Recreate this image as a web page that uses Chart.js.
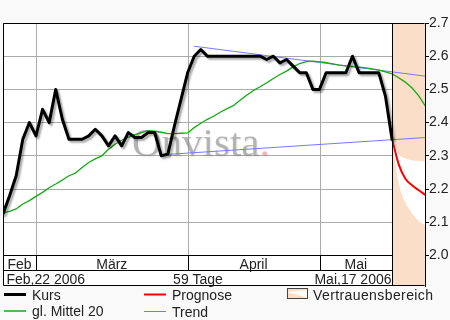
<!DOCTYPE html>
<html lang="de">
<head>
<meta charset="utf-8">
<title>Kursverlauf</title>
<script src="https://cdn.jsdelivr.net/npm/chart.js@4.4.0/dist/chart.umd.min.js"></script>
<style>
  html, body { margin: 0; padding: 0; background: #f9f9f9; }
  #chart { display: block; }
</style>
</head>
<body>
<canvas id="chart" width="450" height="320"></canvas>
<script>
// Schlusskurse, Index 0 = Feb 22 2006 ... Index 59 = Mai 17 2006
const kurs = [
    2.125, 2.18, 2.24, 2.35, 2.40, 2.36, 2.44, 2.40, 2.50, 2.41,
    2.35, 2.35, 2.35, 2.36, 2.38, 2.36, 2.33, 2.36, 2.33, 2.37,
    2.355, 2.355, 2.37, 2.37, 2.30, 2.305, 2.39, 2.47, 2.55, 2.60,
    2.62, 2.60, 2.60, 2.60, 2.60, 2.60, 2.60, 2.60, 2.60, 2.60,
    2.59, 2.60, 2.58, 2.59, 2.57, 2.55, 2.55, 2.50, 2.50, 2.55,
    2.55, 2.55, 2.55, 2.60, 2.55, 2.55, 2.55, 2.55, 2.48, 2.35
];

// gleitender Durchschnitt 20 Tage (inkl. Prognosetage bis Index 64)
const mittel20 = [
    2.128, 2.133, 2.14, 2.155, 2.165, 2.178, 2.19, 2.204, 2.215, 2.227,
    2.24, 2.248, 2.265, 2.28, 2.291, 2.30, 2.32, 2.335, 2.347, 2.356,
    2.364, 2.37, 2.376, 2.374, 2.371, 2.367, 2.367, 2.368, 2.369, 2.385,
    2.398, 2.41, 2.42, 2.432, 2.442, 2.452, 2.468, 2.483, 2.497, 2.508,
    2.52, 2.533, 2.545, 2.555, 2.568, 2.578, 2.584, 2.585, 2.583, 2.581,
    2.577, 2.573, 2.571, 2.569, 2.567, 2.565, 2.562, 2.558, 2.553, 2.547,
    2.535, 2.522, 2.505, 2.482, 2.452
];

// Prognose und Vertrauensbereich ab Index 59
const prognoseStart = 59;
const prognose = [2.352, 2.275, 2.232, 2.212, 2.197, 2.183];
const vertrauenOben = [2.352, 2.305, 2.293, 2.287, 2.285, 2.284];
const vertrauenUnten = [2.352, 2.22, 2.16, 2.128, 2.105, 2.09];

// Trendlinien (Start- und Endpunkt)
const trendObenX = [29, 64];
const trendObenY = [2.63, 2.54];
const trendUntenX = [24, 64];
const trendUntenY = [2.303, 2.355];

// Achsen
const monate = ['Feb', 'März', 'April', 'Mai'];
const monatsStart = [0, 5, 28, 48];
const yTicks = [2.0, 2.1, 2.2, 2.3, 2.4, 2.5, 2.6, 2.7];
const startDatum = 'Feb,22 2006';
const endDatum = 'Mai,17 2006';
const spanne = '59 Tage';
const xMax = 64;

const schrift = '"Liberation Sans", Arial, sans-serif';
const pfirsich = '#fadec8';

// Hilfsfunktionen für Datenpunkte
function punkte(werte, start) {
    return werte.map(function (v, i) { return { x: start + i, y: v }; });
}
function punkteXY(xs, ys) {
    return xs.map(function (x, i) { return { x: x, y: ys[i] }; });
}

// Rahmen, Monatsleiste, Wasserzeichen und Legende
const rahmenPlugin = {
    id: 'rahmen',
    beforeDraw(chart) {
        const ctx = chart.ctx, a = chart.chartArea;
        ctx.save();
        ctx.fillStyle = '#f9f9f9';
        ctx.fillRect(0, 0, chart.width, chart.height);
        ctx.fillStyle = '#ffffff';
        ctx.fillRect(a.left, a.top, a.right - a.left, a.bottom - a.top);
        ctx.restore();
    },
    beforeDatasetsDraw(chart) {
        const ctx = chart.ctx, a = chart.chartArea;
        const x = chart.scales.x, y = chart.scales.y;
        const y0 = Math.round(y.getPixelForValue(2.0));
        ctx.save();

        // senkrechte Gitterlinien an Monatsanfängen
        ctx.strokeStyle = '#aaaaaa';
        ctx.lineWidth = 1;
        monatsStart.slice(1).forEach(function (i) {
            const px = Math.round(x.getPixelForValue(i)) + 0.5;
            ctx.beginPath();
            ctx.moveTo(px, a.top);
            ctx.lineTo(px, y0);
            ctx.stroke();
        });

        // Wasserzeichen
        ctx.font = '41px "Liberation Serif", "DejaVu Serif", serif';
        ctx.textBaseline = 'alphabetic';
        ctx.shadowColor = 'rgba(0,0,0,0.15)';
        ctx.shadowOffsetX = 1;
        ctx.shadowOffsetY = 1;
        ctx.shadowBlur = 2;
        ctx.fillStyle = 'rgba(140,140,140,0.6)';
        ctx.fillText('Onvista', 132, 156);
        const w = ctx.measureText('Onvista').width;
        ctx.fillStyle = 'rgba(240,140,140,0.6)';
        ctx.fillText('.', 132 + w, 156);
        ctx.shadowColor = 'rgba(0,0,0,0)';

        // Prognosebereich
        const xp = x.getPixelForValue(prognoseStart);
        ctx.fillStyle = pfirsich;
        ctx.fillRect(xp, a.top, a.right - xp, a.bottom - a.top);
        ctx.restore();
    },
    beforeDatasetDraw(chart, args) {
        // Schatten unter der Kurslinie
        if (chart.data.datasets[args.index].label === 'Kurs') {
            const ctx = chart.ctx;
            ctx.save();
            ctx.shadowColor = 'rgba(0,0,0,0.35)';
            ctx.shadowOffsetX = 2;
            ctx.shadowOffsetY = 2;
            ctx.shadowBlur = 2;
        }
    },
    afterDatasetDraw(chart, args) {
        if (chart.data.datasets[args.index].label === 'Kurs') {
            chart.ctx.restore();
        }
    },
    afterDatasetsDraw(chart) {
        const ctx = chart.ctx, a = chart.chartArea;
        const x = chart.scales.x, y = chart.scales.y;
        const l = Math.round(a.left) + 0.5, r = Math.round(a.right) - 0.5;
        const t = Math.round(a.top) + 0.5, b = Math.round(a.bottom) - 0.5;
        const y0 = Math.round(y.getPixelForValue(2.0)) + 0.5;
        const yDatum = y0 + 15;
        const xp = Math.round(x.getPixelForValue(prognoseStart)) + 0.5;

        ctx.save();
        ctx.strokeStyle = '#000';
        ctx.lineWidth = 1;
        ctx.beginPath();
        // Außenrahmen
        ctx.moveTo(l, b); ctx.lineTo(l, t); ctx.lineTo(r, t);
        ctx.moveTo(l, b); ctx.lineTo(r, b);
        // Monatsleiste und Datumszeile
        ctx.moveTo(l, y0); ctx.lineTo(xp, y0);
        ctx.moveTo(l, yDatum); ctx.lineTo(xp, yDatum);
        monatsStart.slice(1).forEach(function (i) {
            const px = Math.round(x.getPixelForValue(i)) + 0.5;
            ctx.moveTo(px, y0); ctx.lineTo(px, yDatum);
        });
        // Beginn der Prognose
        ctx.moveTo(xp, t); ctx.lineTo(xp, b);
        ctx.stroke();

        // Monatsnamen
        ctx.fillStyle = '#222';
        ctx.font = '14px ' + schrift;
        ctx.textBaseline = 'alphabetic';
        ctx.textAlign = 'center';
        const grenzen = monatsStart.concat([prognoseStart]);
        monate.forEach(function (m, i) {
            const mitte = (x.getPixelForValue(grenzen[i]) + x.getPixelForValue(grenzen[i + 1])) / 2;
            ctx.fillText(m, mitte, y0 + 13);
        });

        // Datumszeile
        ctx.textAlign = 'left';
        ctx.fillText(startDatum, l + 3, yDatum + 13.5);
        ctx.textAlign = 'center';
        ctx.fillText(spanne, (l + xp) / 2, yDatum + 13.5);
        ctx.textAlign = 'right';
        ctx.fillText(endDatum, xp - 1, yDatum + 13.5);
        ctx.restore();
    },
    afterDraw(chart) {
        // Legende
        const ctx = chart.ctx;
        ctx.save();
        ctx.font = '14px ' + schrift;
        ctx.fillStyle = '#222';
        ctx.textAlign = 'left';
        ctx.textBaseline = 'alphabetic';

        function linie(x1, x2, yy, farbe, breite, text) {
            ctx.strokeStyle = farbe;
            ctx.lineWidth = breite;
            ctx.beginPath();
            ctx.moveTo(x1, yy);
            ctx.lineTo(x2, yy);
            ctx.stroke();
            ctx.fillText(text, x2 + 6, yy + 5);
        }
        linie(4, 26, 294.5, '#000', 3, 'Kurs');
        linie(144, 166, 294.5, '#ff0000', 2, 'Prognose');
        linie(4, 26, 311, '#14a814', 1.5, 'gl. Mittel 20');
        linie(144, 166, 311.5, '#7878ff', 1, 'Trend');

        // Kästchen Vertrauensbereich
        ctx.fillStyle = pfirsich;
        ctx.fillRect(287, 288, 21, 11);
        ctx.fillStyle = '#fff';
        ctx.beginPath();
        ctx.moveTo(287, 292);
        ctx.lineTo(308, 290);
        ctx.lineTo(308, 298);
        ctx.closePath();
        ctx.fill();
        ctx.strokeStyle = '#444';
        ctx.lineWidth = 1;
        ctx.strokeRect(287.5, 288.5, 20, 10);
        ctx.fillStyle = '#222';
        ctx.letterSpacing = '0.4px';
        ctx.fillText('Vertrauensbereich', 313, 299.5);
        ctx.restore();
    }
};

const ctx = document.getElementById('chart').getContext('2d');
new Chart(ctx, {
    type: 'line',
    data: {
        datasets: [
            {
                label: 'Kurs',
                data: punkte(kurs, 0),
                borderColor: '#000',
                borderWidth: 3,
                order: 0
            },
            {
                label: 'Prognose',
                data: punkte(prognose, prognoseStart),
                borderColor: '#ff0000',
                borderWidth: 2,
                cubicInterpolationMode: 'monotone',
                order: 1
            },
            {
                label: 'gl. Mittel 20',
                data: punkte(mittel20, 0),
                borderColor: '#14a814',
                borderWidth: 1.3,
                order: 2
            },
            {
                label: 'Trend',
                data: punkteXY(trendObenX, trendObenY),
                borderColor: '#7878ff',
                borderWidth: 1,
                order: 3
            },
            {
                label: 'Trend unten',
                data: punkteXY(trendUntenX, trendUntenY),
                borderColor: '#7878ff',
                borderWidth: 1,
                order: 4
            },
            {
                label: 'Vertrauensbereich oben',
                data: punkte(vertrauenOben, prognoseStart),
                borderWidth: 0,
                borderColor: 'rgba(0,0,0,0)',
                backgroundColor: '#ffffff',
                cubicInterpolationMode: 'monotone',
                fill: '+1',
                order: 5
            },
            {
                label: 'Vertrauensbereich unten',
                data: punkte(vertrauenUnten, prognoseStart),
                borderWidth: 0,
                borderColor: 'rgba(0,0,0,0)',
                cubicInterpolationMode: 'monotone',
                fill: false,
                order: 6
            }
        ]
    },
    options: {
        responsive: false,
        devicePixelRatio: 1,
        animation: false,
        layout: {
            padding: { left: 3, top: 23, right: 0, bottom: 34 }
        },
        elements: {
            point: { radius: 0 },
            line: { tension: 0, borderJoinStyle: 'round', borderCapStyle: 'round' }
        },
        scales: {
            x: {
                type: 'linear',
                min: 0,
                max: xMax,
                display: false
            },
            y: {
                type: 'linear',
                position: 'right',
                min: 1.908,
                max: 2.7,
                afterBuildTicks: function (s) {
                    s.ticks = yTicks.map(function (v) { return { value: v }; });
                },
                afterFit: function (s) {
                    s.width = 25;
                },
                grid: {
                    color: '#aaaaaa',
                    tickColor: '#000',
                    tickLength: 4
                },
                border: { display: true, color: '#000', width: 1 },
                ticks: {
                    padding: 0,
                    color: '#222',
                    font: { size: 14, family: schrift },
                    callback: function (v) { return Number(v).toFixed(1); }
                }
            }
        },
        plugins: {
            legend: { display: false },
            tooltip: { enabled: false }
        }
    },
    plugins: [rahmenPlugin]
});
</script>
</body>
</html>
